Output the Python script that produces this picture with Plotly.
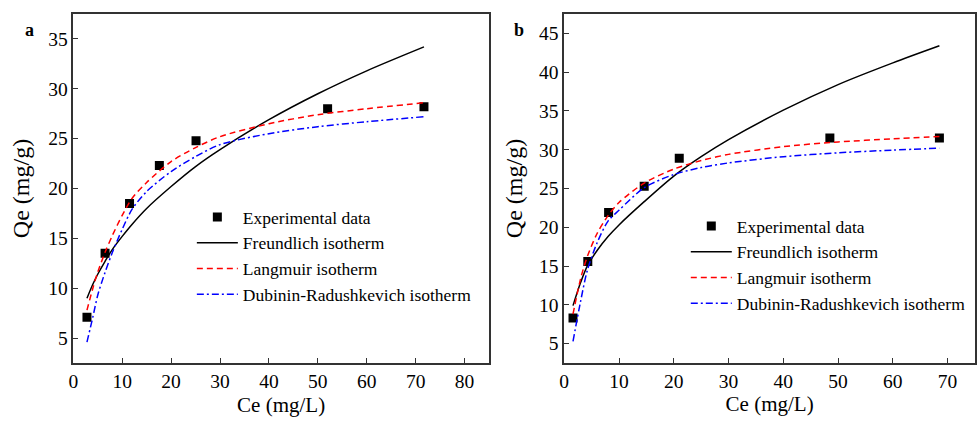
import plotly.graph_objects as go

# ---------------- data ----------------
# Panel a
ce_a = [2.8, 6.5, 11.5, 17.6, 25.1, 52.0, 71.7]
qe_a = [7.1, 13.5, 18.5, 22.3, 24.8, 28.0, 28.2]
fit_x_a = [2.8, 4, 5, 6.5, 8, 10, 12, 15, 20, 25, 30, 40, 50, 60, 71.7]
freund_a = [9.0, 10.4, 11.4, 12.7, 13.9, 15.2, 16.4, 18.0, 20.2, 22.2, 23.9, 26.9, 29.5, 31.8, 34.2]
langm_a = [7.8, 10.0, 11.6, 13.6, 15.3, 17.3, 19.0, 20.6, 22.7, 24.1, 25.2, 26.5, 27.4, 28.0, 28.6]
dr_a = [4.6, 7.1, 9.3, 11.6, 13.6, 15.9, 17.9, 19.7, 21.7, 23.2, 24.4, 25.5, 26.2, 26.7, 27.2]

# Panel b
ce_b = [1.6, 4.3, 8.1, 14.6, 21.0, 48.5, 68.5]
qe_b = [8.3, 15.6, 21.9, 25.3, 28.9, 31.5, 31.5]
fit_x_b = [1.6, 3, 4.2, 6, 8, 10, 14.6, 20, 25, 30, 40, 50, 60, 68.5]
freund_b = [9.9, 12.9, 15.0, 17.0, 18.8, 20.3, 23.3, 26.6, 29.1, 31.3, 35.1, 38.4, 41.2, 43.4]
langm_b = [8.8, 13.4, 16.2, 19.2, 21.5, 23.2, 25.7, 27.5, 28.6, 29.4, 30.4, 31.0, 31.4, 31.7]
dr_b = [5.3, 10.5, 14.4, 18.0, 20.8, 22.2, 25.1, 26.8, 27.7, 28.3, 29.1, 29.6, 29.95, 30.2]

names = ["Experimental data", "Freundlich isotherm", "Langmuir isotherm",
         "Dubinin-Radushkevich isotherm"]

FONT = "Liberation Serif, Times New Roman, serif"

fig = go.Figure()


def add_panel(xa, ya, leg, ce, qe, fx, fr, la, dr):
    fig.add_trace(go.Scatter(x=ce, y=qe, mode="markers", name=names[0],
                             marker=dict(symbol="square", size=9, color="black"),
                             xaxis=xa, yaxis=ya, legend=leg))
    fig.add_trace(go.Scatter(x=fx, y=fr, mode="lines", name=names[1],
                             line=dict(color="black", width=1.5, shape="spline", smoothing=0.8),
                             xaxis=xa, yaxis=ya, legend=leg))
    fig.add_trace(go.Scatter(x=fx, y=la, mode="lines", name=names[2],
                             line=dict(color="red", width=1.5, dash="6px,4px", shape="spline", smoothing=0.8),
                             xaxis=xa, yaxis=ya, legend=leg))
    fig.add_trace(go.Scatter(x=fx, y=dr, mode="lines", name=names[3],
                             line=dict(color="blue", width=1.5, dash="7px,3px,2px,3px", shape="spline", smoothing=0.8),
                             xaxis=xa, yaxis=ya, legend=leg))


add_panel("x", "y", "legend", ce_a, qe_a, fit_x_a, freund_a, langm_a, dr_a)
add_panel("x2", "y2", "legend2", ce_b, qe_b, fit_x_b, freund_b, langm_b, dr_b)

W, H = 977, 421
ydom = [(H - 363) / H, (H - 14) / H]

axis_common = dict(showline=True, mirror=True, linecolor="#333", linewidth=1.5,
                   ticks="inside", ticklen=5, tickwidth=1.2, tickcolor="#333",
                   showgrid=False, zeroline=False,
                   tickfont=dict(family=FONT, size=19.5, color="black"))
xtitle_font = dict(family=FONT, size=21, color="black")
ytitle_font = dict(family=FONT, size=24, color="black")

legend_common = dict(xanchor="left", yanchor="top", bgcolor="rgba(0,0,0,0)",
                     font=dict(family=FONT, size=17.5, color="black"),
                     tracegroupgap=0, itemwidth=41)

fig.update_layout(
    width=W, height=H, autosize=False,
    margin=dict(l=0, r=0, t=0, b=0),
    paper_bgcolor="white", plot_bgcolor="white",
    font=dict(family=FONT, color="black"),
    xaxis=dict(domain=[68.7 / W, 487 / W], range=[0, 85], dtick=10, tick0=0,
               title=dict(text="Ce (mg/L)", standoff=6, font=xtitle_font), anchor="y", **axis_common),
    yaxis=dict(domain=ydom, range=[2.5, 37.5], dtick=5, tick0=0,
               title=dict(text="Qe (mg/g)", standoff=12, font=ytitle_font), anchor="x", **axis_common),
    xaxis2=dict(domain=[562.7 / W, 976 / W], range=[0, 75], dtick=10, tick0=0,
                title=dict(text="Ce (mg/L)", standoff=4, font=xtitle_font), anchor="y2", **axis_common),
    yaxis2=dict(domain=ydom, range=[2.5, 47.5], dtick=5, tick0=0,
                title=dict(text="Qe (mg/g)", standoff=10, font=ytitle_font), anchor="x2", **axis_common),
    legend=dict(x=188 / W, y=(H - 199) / H, **legend_common),
    legend2=dict(x=685 / W, y=(H - 208) / H, **legend_common),
    showlegend=True,
    annotations=[
        dict(text="<b>a</b>", x=25 / W, y=(H - 30) / H, xref="paper", yref="paper",
             xanchor="center", yanchor="middle",
             showarrow=False, font=dict(family=FONT, size=18, color="black")),
        dict(text="<b>b</b>", x=517 / W, y=(H - 30) / H, xref="paper", yref="paper",
             xanchor="center", yanchor="middle",
             showarrow=False, font=dict(family=FONT, size=18, color="black")),
    ],
)

fig.write_html(
    "out.html",
    config={"displayModeBar": False},
    post_script="document.body.style.margin='0';document.body.style.overflow='hidden';",
)
